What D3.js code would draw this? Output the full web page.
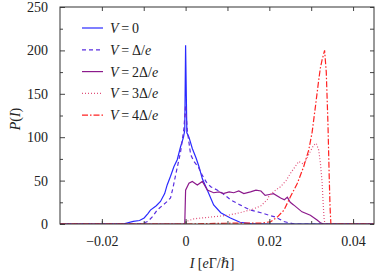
<!DOCTYPE html>
<html>
<head>
<meta charset="utf-8">
<script src="https://cdn.jsdelivr.net/npm/d3@7"></script>
<style>
  body { margin: 0; background: #fff; }
  svg text { font-family: "Liberation Serif", "DejaVu Serif", serif; fill: #222; }
</style>
</head>
<body>
<div id="chart"></div>
<script>
// current values I and probability P(I)
var iV0 = [-0.03, -0.016, -0.0145, -0.0125, -0.011, -0.0099, -0.009, -0.0084, -0.007, -0.006, -0.005, -0.0044, -0.0036, -0.0028, -0.002, -0.0012, -0.0005, -0.0002, 0, 0.0003, 0.0008, 0.0016, 0.0025, 0.0032, 0.004, 0.0052, 0.0067, 0.0084, 0.0107, 0.013, 0.0155, 0.02, 0.045];
var pV0 = [0, 0, 0.5, 3, 4, 7, 12, 16, 21, 26, 35, 45, 55, 66, 74, 89, 100, 108, 206, 105, 100, 87, 76, 66, 52, 39, 22, 13, 7, 2, 0.5, 0, 0];

var iV1 = [-0.03, -0.011, -0.01, -0.009, -0.0078, -0.0068, -0.0056, -0.0044, -0.0036, -0.003, -0.0024, -0.0012, -0.0004, 0, 0.0004, 0.0012, 0.002, 0.003, 0.004, 0.005, 0.006, 0.0084, 0.0107, 0.013, 0.0155, 0.018, 0.02, 0.0215, 0.0234, 0.025, 0.026, 0.045];
var pV1 = [0, 0, 1, 3, 9, 16, 21, 26, 30, 42, 56, 83, 110, 137, 108, 80, 72, 66, 56, 48, 43, 37, 28, 22, 16, 13, 10, 8, 3, 1, 0, 0];

var iV2 = [-0.03, -0.0002, 0, 0.0008, 0.0016, 0.0028, 0.004, 0.0052, 0.0067, 0.008, 0.009, 0.0104, 0.0115, 0.0127, 0.0139, 0.0155, 0.0168, 0.018, 0.019, 0.02, 0.021, 0.0227, 0.0236, 0.0243, 0.025, 0.0258, 0.0278, 0.0298, 0.0314, 0.0322, 0.033, 0.045];
var pV2 = [0, 0, 39, 47, 49, 45, 49, 39, 36, 37, 35, 37, 36, 38, 35, 37, 39, 38, 33, 34, 35, 30, 28, 31, 25, 22, 14, 10, 4.6, 1.5, 0, 0];

var iV3 = [-0.03, -0.0002, 0.0002, 0.002, 0.006, 0.01, 0.013, 0.016, 0.018, 0.0195, 0.02, 0.0215, 0.0227, 0.024, 0.025, 0.026, 0.027, 0.0282, 0.0294, 0.0306, 0.0312, 0.0318, 0.0322, 0.0326, 0.0329, 0.0331, 0.0333, 0.045];
var pV3 = [0, 0, 3, 6, 8, 10, 13, 17, 21, 28, 33, 39, 43, 50, 58, 65, 72, 69, 80, 91, 93, 85, 70, 48, 20, 5, 0, 0];

var iV4 = [-0.03, 0, 0.005, 0.012, 0.018, 0.0203, 0.0219, 0.0235, 0.025, 0.0267, 0.0282, 0.0294, 0.0302, 0.031, 0.0318, 0.0322, 0.0326, 0.0332, 0.0336, 0.034, 0.0343, 0.0345, 0.0347, 0.045];
var pV4 = [0, 0, 0.5, 1, 1, 2.6, 8, 16, 31, 47, 66, 85, 105, 135, 166, 180, 189, 200, 175, 116, 55, 20, 0, 0];

var seriesNames = ["0", "1", "2", "3", "4"];   // V in units of Delta/e
var xTicks = [-0.02, 0, 0.02, 0.04];
var yTicks = [0, 50, 100, 150, 200, 250];

var width = 377, height = 273;
var margin = {left: 60, right: 3, top: 7, bottom: 49};
var serif = '"Liberation Serif", "DejaVu Serif", serif';

var svg = d3.select("#chart").append("svg")
    .attr("width", width)
    .attr("height", height);

var x = d3.scaleLinear().domain([-0.03, 0.045]).range([margin.left, width - margin.right]);
var y = d3.scaleLinear().domain([0, 250]).range([height - margin.bottom, margin.top]);

var series = [
  {i: iV0, p: pV0, color: "#2a2aff", dash: null},
  {i: iV1, p: pV1, color: "#5a2ee0", dash: "4,3"},
  {i: iV2, p: pV2, color: "#8c1a8c", dash: null},
  {i: iV3, p: pV3, color: "#e0507a", dash: "1,2"},
  {i: iV4, p: pV4, color: "#ff2222", dash: "6,2,1.5,2"}
];

var line = d3.line()
    .x(function(d) { return x(d[0]); })
    .y(function(d) { return y(d[1]); });

var plot = svg.append("g");
plot.append("clipPath").attr("id", "clip").append("rect")
    .attr("x", x.range()[0]).attr("y", y.range()[1])
    .attr("width", x.range()[1] - x.range()[0])
    .attr("height", y.range()[0] - y.range()[1]);

series.forEach(function(s) {
  plot.append("path")
      .datum(d3.zip(s.i, s.p))
      .attr("clip-path", "url(#clip)")
      .attr("fill", "none")
      .attr("stroke", s.color)
      .attr("stroke-width", 1.2)
      .attr("stroke-dasharray", s.dash)
      .attr("d", line);
});

// axes: inward ticks on all four sides
function styleAxis(g) {
  g.attr("font-family", null);
  g.select(".domain").remove();
  g.selectAll("line").attr("stroke", "#444");
  g.selectAll("text")
      .style("font-family", serif)
      .style("font-size", "14px")
      .attr("fill", "#222");
}

var xMinor = d3.range(-0.02, 0.045, 0.01);
var yMinor = d3.range(25, 250, 50);

svg.append("g").attr("transform", "translate(0," + y(0) + ")")
    .call(d3.axisBottom(x).tickValues(xTicks).tickSize(-5).tickPadding(12.5)
      .tickFormat(function(d) { return d === 0 ? "0" : d3.format(".2f")(d).replace("-", "\u2212"); }))
    .call(styleAxis);
svg.append("g").attr("transform", "translate(0," + y(0) + ")")
    .call(d3.axisBottom(x).tickValues(xMinor).tickSize(-3).tickFormat(""))
    .call(styleAxis);
svg.append("g").attr("transform", "translate(0," + y(250) + ")")
    .call(d3.axisTop(x).tickValues(xMinor).tickSize(-4).tickFormat(""))
    .call(styleAxis);

svg.append("g").attr("transform", "translate(" + x(-0.03) + ",0)")
    .call(d3.axisLeft(y).tickValues(yTicks).tickSize(-5).tickPadding(12))
    .call(styleAxis);
svg.append("g").attr("transform", "translate(" + x(-0.03) + ",0)")
    .call(d3.axisLeft(y).tickValues(yMinor).tickSize(-3).tickFormat(""))
    .call(styleAxis);
svg.append("g").attr("transform", "translate(" + x(0.045) + ",0)")
    .call(d3.axisRight(y).tickValues(yTicks.concat(yMinor)).tickSize(-4).tickFormat(""))
    .call(styleAxis);

// frame
svg.append("rect")
    .attr("x", x.range()[0]).attr("y", y.range()[1])
    .attr("width", x.range()[1] - x.range()[0])
    .attr("height", y.range()[0] - y.range()[1])
    .attr("fill", "none")
    .attr("stroke", "#333")
    .attr("stroke-width", 1);

// axis labels
var xl = svg.append("text")
    .attr("x", 212).attr("y", 268)
    .attr("text-anchor", "middle")
    .style("font-family", serif)
    .style("font-size", "14px");
xl.append("tspan").attr("font-style", "italic").text("I");
xl.append("tspan").text(" [");
xl.append("tspan").attr("font-style", "italic").text("e");
xl.append("tspan").text("\u0393/");
xl.append("tspan").attr("font-style", "italic").text("\u210F");
xl.append("tspan").text("]");

var yl = svg.append("text")
    .attr("transform", "translate(20,119) rotate(-90)")
    .attr("text-anchor", "middle")
    .style("font-family", serif)
    .style("font-size", "14px");
yl.append("tspan").attr("font-style", "italic").text("P");
yl.append("tspan").text("(");
yl.append("tspan").attr("font-style", "italic").text("I");
yl.append("tspan").text(")");

// legend
var legend = svg.append("g");
series.forEach(function(s, k) {
  var ly = 28 + k * 21.8;
  legend.append("line")
      .attr("x1", 82).attr("x2", 103)
      .attr("y1", ly).attr("y2", ly)
      .attr("stroke", s.color)
      .attr("stroke-width", 1.2)
      .attr("stroke-dasharray", s.dash);
  var t = legend.append("text")
      .attr("x", 110).attr("y", ly + 5)
      .style("font-family", serif)
      .style("font-size", "14px");
  t.append("tspan").attr("font-style", "italic").text("V");
  var n = seriesNames[k];
  if (n === "0") {
    t.append("tspan").text("\u2009=\u20090");
  } else {
    t.append("tspan").text("\u2009=\u2009" + (n === "1" ? "" : n) + "\u0394/");
    t.append("tspan").attr("font-style", "italic").text("e");
  }
});
</script>
</body>
</html>
